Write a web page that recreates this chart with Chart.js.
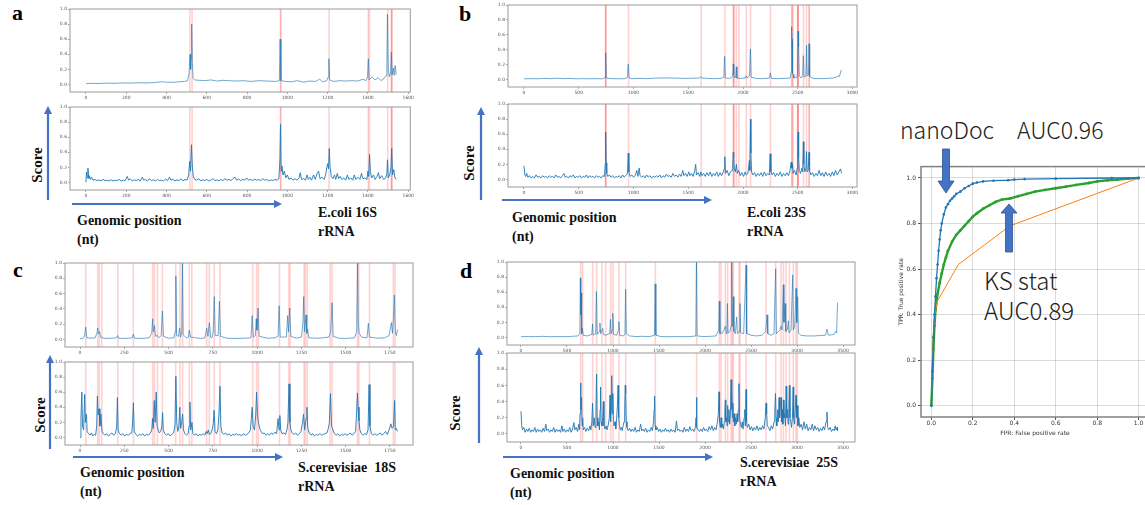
<!DOCTYPE html>
<html><head><meta charset="utf-8">
<script src="https://cdn.jsdelivr.net/npm/chart.js@4.4.1/dist/chart.umd.min.js"></script>
<style>
html,body{margin:0;padding:0;width:1145px;height:505px;overflow:hidden;background:#fff;}
#wrap{position:relative;width:1145px;height:505px;overflow:hidden;}
canvas{position:absolute;}
.t{position:absolute;font-family:'Liberation Serif','Times New Roman',serif;font-weight:bold;color:#111;white-space:pre;font-size:14px;line-height:18.5px;}
.rot{position:absolute;font-family:'Liberation Serif',serif;font-weight:bold;color:#111;font-size:15px;line-height:15px;transform:translate(-50%,-50%) rotate(-90deg);white-space:nowrap;}
.let{position:absolute;font-family:'Liberation Serif',serif;font-weight:bold;color:#000;font-size:22px;line-height:22px;transform:translate(-50%,-50%);}
.big{position:absolute;font-family:'Noto Sans CJK JP','Noto Sans',sans-serif;font-weight:300;color:#222;font-size:23px;line-height:23px;white-space:pre;}
svg{position:absolute;left:0;top:0;}
</style></head><body><div id="wrap">
<div class="let" style="left:17.5px;top:13px">a</div>
<div class="let" style="left:465px;top:14px">b</div>
<div class="let" style="left:18px;top:269.5px">c</div>
<div class="let" style="left:466px;top:271px">d</div>
<div class="rot" style="left:37px;top:165px">Score</div>
<div class="rot" style="left:469px;top:163px">Score</div>
<div class="rot" style="left:40px;top:415px">Score</div>
<div class="rot" style="left:455px;top:413px">Score</div>
<div class="t" style="left:77px;top:212px">Genomic position
(nt)</div>
<div class="t" style="left:318px;top:204px">E.coli 16S
rRNA</div>
<div class="t" style="left:512px;top:209px">Genomic position
(nt)</div>
<div class="t" style="left:747px;top:204px">E.coli 23S
rRNA</div>
<div class="t" style="left:80px;top:464px">Genomic position
(nt)</div>
<div class="t" style="left:298px;top:459px">S.cerevisiae  18S
rRNA</div>
<div class="t" style="left:510px;top:465px">Genomic position
(nt)</div>
<div class="t" style="left:740px;top:454px">S.cerevisiae  25S
rRNA</div>
<div class="big" style="left:900px;top:117.5px">nanoDoc　AUC0.96</div>
<div class="big" style="left:984px;top:267.5px;font-size:24px;line-height:24px">KS stat</div>
<div class="big" style="left:984px;top:297.5px;font-size:24px;line-height:24px">AUC0.89</div>
</div>
<script>
// ---------- data ----------
const scoreTicks = [0, 0.2, 0.4, 0.6, 0.8, 1.0];
const ecoli16sTicks = [0, 200, 400, 600, 800, 1000, 1200, 1400, 1600];
const ecoli23sTicks = [0, 500, 1000, 1500, 2000, 2500, 3000];
const yeast18sTicks = [0, 250, 500, 750, 1000, 1250, 1500, 1750];
const yeast25sTicks = [0, 500, 1000, 1500, 2000, 2500, 3000, 3500];
const rocTicks = [0, 0.2, 0.4, 0.6, 0.8, 1.0];

const ecoli16sSites = [516, 527, 966, 967, 1207, 1402, 1407, 1498, 1516, 1518, 1519];
const ecoli23sSites = [745, 746, 747, 955, 1618, 1835, 1911, 1915, 1917, 1939, 1962, 2030, 2069, 2251, 2445, 2449, 2457, 2498, 2501, 2503, 2504, 2552, 2580, 2604, 2605];
const yeast18sSites = [32, 100, 109, 123, 213, 301, 410, 420, 437, 465, 540, 564, 579, 617, 631, 715, 730, 758, 790, 975, 997, 1007, 1126, 1178, 1186, 1265, 1272, 1283, 1412, 1423, 1566, 1574, 1634, 1769, 1779];
const yeast25sSites = [649, 670, 779, 822, 880, 920, 975, 1000, 1065, 1138, 1460, 1909, 2156, 2174, 2221, 2246, 2283, 2297, 2308, 2370, 2380, 2446, 2663, 2768, 2826, 2852, 2880, 2917, 2960, 2989, 3003];

const ecoli16sTop = [[0,0.01],[30,0.015],[60,0.012],[100,0.018],[140,0.015],[180,0.02],[220,0.018],[260,0.022],[300,0.02],[340,0.025],[380,0.035],[400,0.03],[430,0.028],[460,0.035],[490,0.04],[505,0.05],[512,0.15],[517,0.4],[520,0.2],[522,0.35],[525,0.8],[528,0.3],[532,0.08],[540,0.06],[560,0.055],[590,0.05],[620,0.06],[650,0.045],[680,0.055],[710,0.05],[740,0.045],[780,0.05],[820,0.04],[860,0.05],[900,0.045],[940,0.04],[960,0.05],[964,0.6],[968,0.05],[990,0.04],[1020,0.035],[1050,0.05],[1080,0.03],[1110,0.045],[1140,0.04],[1160,0.07],[1175,0.035],[1195,0.05],[1203,0.1],[1206,0.34],[1210,0.06],[1230,0.04],[1260,0.05],[1290,0.045],[1320,0.05],[1350,0.045],[1375,0.07],[1390,0.05],[1398,0.1],[1402,0.34],[1406,0.06],[1420,0.1],[1435,0.06],[1450,0.09],[1465,0.05],[1480,0.08],[1490,0.12],[1494,0.3],[1497,0.93],[1501,0.2],[1506,0.1],[1512,0.15],[1516,0.43],[1520,0.13],[1526,0.22],[1530,0.12],[1535,0.25],[1540,0.13]];

const ecoli16sBottom = [[0,0],[3,0.14],[6,0.06],[10,0.19],[14,0.05],[18,0.09],[22,0.04],[28,0.07],[35,0.03],[45,0.04],[55,0.025],[65,0.035],[75,0.02],[85,0.04],[95,0.025],[105,0.03],[115,0.02],[125,0.035],[135,0.02],[145,0.03],[155,0.025],[165,0.04],[175,0.02],[185,0.03],[195,0.025],[205,0.08],[212,0.03],[220,0.05],[230,0.02],[240,0.035],[250,0.025],[260,0.04],[270,0.02],[280,0.07],[287,0.03],[295,0.04],[305,0.02],[315,0.05],[325,0.025],[335,0.035],[345,0.02],[355,0.04],[365,0.025],[375,0.03],[385,0.02],[395,0.045],[405,0.025],[415,0.07],[422,0.03],[432,0.04],[442,0.02],[452,0.035],[462,0.025],[472,0.05],[482,0.02],[492,0.04],[502,0.03],[510,0.1],[515,0.28],[519,0.15],[524,0.5],[528,0.22],[533,0.08],[540,0.04],[550,0.03],[560,0.05],[570,0.02],[580,0.035],[590,0.025],[600,0.04],[610,0.02],[620,0.03],[630,0.05],[640,0.025],[650,0.035],[660,0.02],[670,0.04],[680,0.025],[690,0.05],[700,0.03],[710,0.04],[720,0.025],[730,0.05],[740,0.07],[748,0.03],[758,0.045],[768,0.025],[778,0.04],[788,0.03],[798,0.06],[808,0.03],[818,0.04],[828,0.025],[838,0.045],[848,0.03],[858,0.04],[868,0.025],[878,0.05],[888,0.03],[898,0.04],[908,0.02],[918,0.035],[928,0.025],[938,0.04],[948,0.03],[958,0.05],[963,0.3],[966,0.77],[969,0.15],[973,0.22],[978,0.1],[985,0.15],[992,0.06],[1000,0.1],[1008,0.04],[1018,0.06],[1028,0.03],[1038,0.05],[1048,0.03],[1058,0.06],[1064,0.13],[1070,0.04],[1080,0.05],[1090,0.03],[1098,0.1],[1104,0.04],[1112,0.07],[1120,0.03],[1130,0.1],[1138,0.04],[1148,0.12],[1155,0.15],[1162,0.05],[1172,0.07],[1182,0.04],[1190,0.1],[1196,0.2],[1200,0.25],[1204,0.18],[1208,0.45],[1212,0.2],[1218,0.08],[1226,0.05],[1234,0.1],[1240,0.04],[1248,0.12],[1254,0.05],[1262,0.08],[1270,0.04],[1280,0.06],[1290,0.03],[1298,0.1],[1305,0.04],[1315,0.06],[1325,0.03],[1332,0.1],[1340,0.04],[1350,0.07],[1360,0.04],[1368,0.12],[1375,0.05],[1385,0.06],[1395,0.04],[1400,0.15],[1404,0.08],[1408,0.37],[1412,0.15],[1418,0.06],[1428,0.1],[1435,0.04],[1445,0.08],[1452,0.13],[1458,0.05],[1468,0.09],[1478,0.04],[1488,0.06],[1494,0.12],[1497,0.3],[1501,0.06],[1508,0.1],[1514,0.2],[1518,0.45],[1522,0.1],[1528,0.17],[1534,0.06],[1540,0.04]];

const ecoli23sTop = [[0,0.01],[60,0.012],[120,0.01],[180,0.015],[240,0.012],[300,0.018],[360,0.012],[420,0.015],[480,0.01],[540,0.012],[600,0.01],[660,0.012],[720,0.01],[740,0.03],[746,0.36],[752,0.02],[800,0.012],[860,0.01],[920,0.012],[945,0.03],[952,0.21],[960,0.02],[1000,0.012],[1060,0.015],[1120,0.012],[1180,0.018],[1240,0.02],[1300,0.022],[1360,0.02],[1420,0.018],[1480,0.015],[1540,0.018],[1600,0.02],[1615,0.04],[1625,0.02],[1680,0.015],[1740,0.012],[1800,0.015],[1825,0.03],[1832,0.31],[1840,0.02],[1880,0.015],[1905,0.04],[1911,0.21],[1916,0.07],[1925,0.02],[1934,0.05],[1939,0.17],[1945,0.02],[1980,0.015],[2020,0.02],[2030,0.05],[2038,0.02],[2060,0.05],[2068,0.41],[2075,0.03],[2120,0.015],[2180,0.012],[2240,0.02],[2250,0.09],[2258,0.015],[2320,0.012],[2380,0.015],[2430,0.02],[2440,0.1],[2444,0.71],[2448,0.54],[2452,0.08],[2458,0.07],[2465,0.02],[2490,0.03],[2498,0.08],[2503,0.65],[2508,0.44],[2514,0.05],[2530,0.02],[2545,0.05],[2551,0.32],[2558,0.03],[2575,0.05],[2580,0.46],[2586,0.05],[2598,0.06],[2603,0.48],[2609,0.04],[2640,0.015],[2700,0.012],[2760,0.015],[2820,0.02],[2850,0.03],[2870,0.05],[2880,0.04],[2892,0.1],[2900,0.13]];

const ecoli23sBottom = [[0,0.18],[8,0.06],[15,0.04],[25,0.08],[35,0.03],[50,0.05],[65,0.02],[80,0.04],[95,0.02],[110,0.06],[125,0.03],[140,0.04],[155,0.02],[170,0.05],[185,0.03],[200,0.04],[215,0.02],[230,0.05],[245,0.03],[260,0.04],[275,0.02],[290,0.06],[305,0.03],[320,0.04],[335,0.02],[350,0.05],[365,0.08],[375,0.03],[390,0.04],[405,0.02],[420,0.05],[435,0.03],[450,0.06],[465,0.02],[480,0.04],[495,0.03],[510,0.05],[525,0.02],[540,0.04],[555,0.03],[570,0.06],[585,0.02],[600,0.05],[615,0.03],[630,0.04],[645,0.02],[660,0.05],[675,0.03],[690,0.04],[705,0.02],[720,0.05],[735,0.04],[742,0.2],[746,0.63],[750,0.22],[756,0.08],[765,0.04],[780,0.06],[795,0.03],[810,0.05],[825,0.02],[840,0.04],[855,0.03],[870,0.05],[885,0.02],[900,0.06],[915,0.03],[930,0.05],[945,0.08],[952,0.35],[958,0.1],[968,0.04],[985,0.06],[1000,0.03],[1015,0.05],[1030,0.12],[1040,0.04],[1052,0.15],[1060,0.05],[1075,0.03],[1090,0.05],[1105,0.02],[1120,0.06],[1135,0.03],[1150,0.05],[1165,0.02],[1180,0.04],[1195,0.03],[1210,0.05],[1225,0.03],[1240,0.06],[1255,0.02],[1270,0.05],[1285,0.03],[1300,0.07],[1315,0.04],[1330,0.05],[1345,0.03],[1360,0.08],[1375,0.04],[1390,0.06],[1405,0.03],[1420,0.07],[1435,0.04],[1450,0.12],[1460,0.05],[1475,0.08],[1490,0.04],[1505,0.1],[1515,0.05],[1530,0.08],[1545,0.04],[1560,0.12],[1568,0.2],[1575,0.06],[1590,0.09],[1605,0.04],[1615,0.1],[1625,0.05],[1640,0.08],[1655,0.04],[1670,0.09],[1685,0.05],[1700,0.1],[1715,0.04],[1730,0.08],[1745,0.05],[1760,0.1],[1775,0.04],[1790,0.09],[1805,0.05],[1820,0.1],[1828,0.14],[1834,0.3],[1840,0.08],[1855,0.12],[1870,0.05],[1885,0.1],[1900,0.12],[1906,0.2],[1911,0.36],[1915,0.3],[1920,0.15],[1930,0.1],[1940,0.2],[1948,0.08],[1960,0.12],[1975,0.05],[1990,0.09],[2005,0.04],[2020,0.1],[2030,0.06],[2045,0.08],[2058,0.25],[2062,0.12],[2068,0.8],[2072,0.35],[2078,0.1],[2090,0.06],[2105,0.09],[2120,0.04],[2135,0.08],[2150,0.05],[2165,0.09],[2180,0.04],[2195,0.1],[2210,0.05],[2225,0.08],[2240,0.06],[2248,0.34],[2255,0.1],[2265,0.06],[2280,0.09],[2295,0.04],[2310,0.08],[2325,0.05],[2340,0.1],[2355,0.04],[2370,0.08],[2385,0.05],[2400,0.09],[2415,0.05],[2430,0.12],[2440,0.23],[2446,0.15],[2452,0.2],[2458,0.08],[2470,0.12],[2485,0.06],[2495,0.15],[2500,0.45],[2504,0.63],[2508,0.3],[2514,0.12],[2525,0.08],[2538,0.15],[2545,0.1],[2551,0.5],[2556,0.2],[2565,0.1],[2575,0.15],[2580,0.37],[2585,0.1],[2595,0.12],[2603,0.36],[2608,0.12],[2620,0.06],[2635,0.09],[2650,0.04],[2665,0.08],[2680,0.05],[2695,0.12],[2710,0.05],[2725,0.09],[2740,0.04],[2755,0.1],[2770,0.05],[2785,0.08],[2800,0.04],[2815,0.1],[2830,0.05],[2845,0.12],[2860,0.06],[2875,0.1],[2890,0.14],[2900,0.08]];

const yeast18sTop = [[0,0.01],[15,0.01],[25,0.04],[32,0.16],[38,0.02],[60,0.015],[85,0.02],[95,0.08],[100,0.15],[105,0.07],[110,0.1],[116,0.03],[140,0.012],[180,0.015],[205,0.02],[212,0.05],[218,0.015],[260,0.012],[295,0.02],[301,0.07],[307,0.015],[350,0.012],[390,0.02],[405,0.08],[410,0.27],[414,0.1],[420,0.18],[426,0.04],[437,0.05],[445,0.02],[458,0.05],[465,0.37],[471,0.04],[500,0.015],[530,0.02],[537,0.1],[541,0.83],[545,0.05],[556,0.04],[562,0.15],[568,0.03],[574,0.1],[578,1.0],[582,0.06],[600,0.02],[612,0.03],[617,0.12],[624,0.03],[680,0.012],[705,0.02],[715,0.15],[722,0.04],[730,0.22],[737,0.03],[745,0.02],[752,0.1],[758,0.56],[763,0.05],[780,0.05],[787,0.5],[793,0.04],[830,0.015],[880,0.012],[930,0.015],[965,0.02],[972,0.31],[978,0.03],[990,0.05],[995,0.27],[999,0.12],[1005,0.41],[1011,0.04],[1060,0.015],[1100,0.02],[1118,0.04],[1124,0.44],[1130,0.03],[1165,0.03],[1172,0.31],[1177,0.1],[1184,0.41],[1190,0.04],[1220,0.015],[1250,0.03],[1258,0.2],[1263,0.56],[1268,0.1],[1276,0.32],[1280,0.08],[1285,0.13],[1292,0.02],[1350,0.015],[1405,0.03],[1415,0.1],[1423,0.48],[1429,0.04],[1460,0.015],[1500,0.012],[1550,0.02],[1562,0.1],[1567,1.0],[1571,0.2],[1576,0.08],[1590,0.03],[1620,0.02],[1628,0.21],[1634,0.03],[1680,0.015],[1720,0.02],[1745,0.05],[1758,0.22],[1764,0.08],[1770,0.3],[1775,0.58],[1780,0.1],[1786,0.05],[1792,0.13]];

const yeast18sBottom = [[0,0],[5,0.25],[10,0.6],[14,0.15],[20,0.1],[26,0.57],[30,0.2],[36,0.31],[40,0.08],[48,0.05],[56,0.03],[64,0.06],[72,0.02],[80,0.04],[88,0.03],[94,0.15],[98,0.55],[102,0.3],[107,0.38],[112,0.15],[118,0.31],[124,0.08],[132,0.05],[140,0.03],[150,0.05],[160,0.02],[170,0.04],[180,0.06],[190,0.03],[200,0.05],[207,0.15],[211,0.53],[215,0.1],[222,0.05],[232,0.03],[242,0.05],[252,0.02],[262,0.04],[272,0.03],[282,0.05],[292,0.06],[297,0.2],[301,0.46],[306,0.08],[315,0.04],[325,0.02],[335,0.04],[345,0.03],[355,0.05],[365,0.02],[375,0.04],[385,0.03],[395,0.05],[405,0.1],[409,0.25],[413,0.12],[419,0.49],[424,0.2],[430,0.6],[435,0.15],[441,0.1],[448,0.06],[455,0.08],[462,0.15],[466,0.33],[470,0.1],[478,0.05],[488,0.03],[498,0.05],[508,0.02],[518,0.04],[528,0.06],[536,0.15],[541,0.81],[546,0.2],[552,0.08],[558,0.15],[563,0.4],[568,0.12],[574,0.2],[579,0.31],[584,0.1],[592,0.05],[600,0.03],[610,0.05],[616,0.15],[620,0.47],[625,0.1],[632,0.2],[637,0.05],[645,0.03],[655,0.05],[665,0.02],[675,0.04],[685,0.03],[695,0.05],[705,0.03],[712,0.08],[718,0.05],[724,0.1],[730,0.04],[738,0.05],[746,0.1],[752,0.18],[757,0.36],[762,0.08],[770,0.05],[778,0.1],[784,0.3],[790,0.68],[795,0.15],[802,0.06],[812,0.04],[822,0.06],[832,0.03],[842,0.05],[852,0.02],[862,0.04],[872,0.03],[882,0.05],[892,0.03],[902,0.04],[912,0.02],[922,0.05],[932,0.03],[942,0.04],[952,0.06],[962,0.1],[967,0.25],[972,0.4],[977,0.15],[985,0.1],[992,0.3],[997,0.6],[1002,0.3],[1007,0.2],[1014,0.12],[1022,0.08],[1030,0.05],[1040,0.06],[1050,0.03],[1060,0.05],[1070,0.03],[1080,0.06],[1090,0.04],[1100,0.07],[1110,0.05],[1118,0.25],[1124,0.1],[1128,0.29],[1133,0.1],[1140,0.05],[1150,0.06],[1160,0.04],[1168,0.1],[1174,0.2],[1180,0.71],[1185,0.2],[1190,0.1],[1198,0.06],[1208,0.04],[1218,0.06],[1228,0.03],[1238,0.05],[1248,0.08],[1256,0.2],[1262,0.31],[1268,0.1],[1276,0.25],[1281,0.4],[1286,0.12],[1294,0.06],[1304,0.03],[1314,0.05],[1324,0.02],[1334,0.04],[1344,0.03],[1354,0.05],[1364,0.03],[1374,0.04],[1384,0.05],[1394,0.06],[1402,0.12],[1408,0.2],[1414,0.58],[1420,0.15],[1428,0.1],[1436,0.05],[1446,0.03],[1456,0.05],[1466,0.02],[1476,0.04],[1486,0.03],[1496,0.05],[1506,0.03],[1516,0.04],[1526,0.06],[1536,0.03],[1546,0.05],[1556,0.08],[1562,0.35],[1566,0.59],[1570,0.4],[1575,0.22],[1580,0.1],[1588,0.05],[1598,0.03],[1608,0.05],[1618,0.04],[1626,0.1],[1632,0.7],[1637,0.15],[1645,0.05],[1655,0.03],[1665,0.05],[1675,0.03],[1685,0.04],[1695,0.06],[1705,0.03],[1715,0.05],[1725,0.08],[1735,0.04],[1745,0.1],[1755,0.18],[1762,0.12],[1770,0.15],[1776,0.49],[1780,0.1],[1786,0.12],[1792,0.08]];

const yeast25sTop = [[0,0.01],[80,0.012],[160,0.01],[240,0.015],[320,0.01],[400,0.012],[480,0.01],[560,0.015],[620,0.02],[640,0.05],[645,0.79],[650,0.3],[655,0.59],[660,0.05],[668,0.12],[675,0.03],[720,0.02],[770,0.04],[778,0.18],[785,0.03],[812,0.05],[820,0.61],[828,0.04],[850,0.08],[858,0.19],[866,0.05],[880,0.1],[888,0.12],[895,0.04],[920,0.03],[965,0.05],[972,0.24],[980,0.05],[992,0.1],[998,0.32],[1005,0.04],[1040,0.03],[1058,0.1],[1064,0.21],[1072,0.03],[1110,0.02],[1130,0.04],[1137,0.64],[1145,0.05],[1180,0.02],[1250,0.012],[1320,0.015],[1400,0.012],[1450,0.03],[1458,0.71],[1466,0.03],[1520,0.012],[1600,0.01],[1680,0.012],[1760,0.01],[1840,0.012],[1900,0.02],[1907,1.0],[1914,0.02],[1980,0.012],[2060,0.015],[2120,0.02],[2148,0.1],[2155,0.48],[2162,0.05],[2190,0.06],[2205,0.1],[2221,0.15],[2230,0.05],[2238,0.1],[2243,0.45],[2250,0.06],[2270,0.08],[2283,0.15],[2290,1.0],[2296,0.15],[2302,0.3],[2308,0.54],[2314,0.08],[2330,0.05],[2344,0.27],[2352,0.05],[2370,0.08],[2380,0.45],[2388,0.06],[2420,0.05],[2446,0.96],[2453,0.05],[2500,0.03],[2560,0.02],[2620,0.03],[2660,0.08],[2674,0.3],[2682,0.05],[2720,0.03],[2750,0.05],[2768,0.91],[2776,0.05],[2800,0.08],[2815,0.1],[2826,0.15],[2838,0.1],[2851,0.7],[2858,0.2],[2870,0.45],[2878,0.08],[2895,0.1],[2906,0.22],[2914,0.06],[2935,0.1],[2953,0.83],[2960,0.1],[2975,0.15],[2989,0.65],[2997,0.2],[3007,0.54],[3015,0.06],[3040,0.03],[3100,0.02],[3180,0.02],[3250,0.025],[3310,0.03],[3325,0.11],[3340,0.03],[3400,0.04],[3420,0.08],[3430,0.06],[3440,0.46]];

const yeast25sBottom = [[0,0.28],[8,0.1],[16,0.05],[30,0.08],[45,0.02],[60,0.06],[75,0.03],[90,0.07],[105,0.02],[120,0.05],[135,0.03],[150,0.08],[165,0.02],[180,0.06],[195,0.03],[210,0.05],[225,0.02],[240,0.07],[255,0.03],[270,0.12],[280,0.04],[295,0.06],[310,0.02],[325,0.05],[340,0.03],[355,0.08],[370,0.02],[385,0.06],[400,0.03],[415,0.05],[430,0.02],[445,0.1],[455,0.03],[470,0.06],[485,0.02],[500,0.05],[515,0.03],[530,0.08],[545,0.02],[560,0.06],[575,0.14],[585,0.05],[600,0.08],[615,0.03],[628,0.12],[636,0.05],[642,0.25],[647,0.63],[652,0.3],[658,0.45],[664,0.1],[670,0.2],[676,0.05],[690,0.08],[705,0.03],[720,0.07],[735,0.04],[750,0.1],[760,0.05],[770,0.15],[778,0.38],[785,0.1],[795,0.2],[805,0.08],[815,0.3],[822,0.74],[828,0.2],[836,0.1],[845,0.15],[852,0.05],[860,0.3],[865,0.58],[870,0.15],[880,0.1],[888,0.2],[895,0.4],[902,0.1],[912,0.06],[925,0.1],[935,0.05],[950,0.12],[960,0.2],[968,0.48],[974,0.15],[980,0.3],[986,0.72],[992,0.25],[998,0.5],[1004,0.2],[1012,0.1],[1022,0.15],[1030,0.06],[1040,0.2],[1048,0.35],[1055,0.6],[1062,0.2],[1070,0.1],[1080,0.05],[1090,0.08],[1100,0.04],[1110,0.1],[1120,0.15],[1127,0.3],[1133,0.6],[1138,0.5],[1144,0.15],[1152,0.08],[1165,0.04],[1180,0.07],[1195,0.03],[1210,0.06],[1225,0.03],[1240,0.08],[1255,0.02],[1270,0.05],[1285,0.03],[1300,0.12],[1312,0.04],[1325,0.06],[1340,0.03],[1355,0.07],[1370,0.02],[1385,0.05],[1400,0.03],[1415,0.08],[1428,0.04],[1440,0.15],[1447,0.3],[1452,0.47],[1458,0.1],[1466,0.05],[1480,0.08],[1495,0.03],[1510,0.06],[1525,0.02],[1540,0.05],[1555,0.03],[1570,0.07],[1585,0.03],[1600,0.05],[1615,0.02],[1630,0.06],[1645,0.03],[1660,0.05],[1675,0.02],[1690,0.16],[1700,0.04],[1715,0.06],[1730,0.03],[1745,0.05],[1760,0.02],[1775,0.08],[1790,0.03],[1805,0.06],[1820,0.03],[1835,0.09],[1850,0.04],[1865,0.06],[1880,0.03],[1895,0.08],[1903,0.2],[1907,0.45],[1912,0.08],[1925,0.05],[1940,0.03],[1955,0.06],[1970,0.03],[1985,0.08],[2000,0.04],[2015,0.06],[2030,0.03],[2045,0.09],[2060,0.05],[2075,0.1],[2090,0.04],[2105,0.08],[2120,0.05],[2135,0.15],[2145,0.25],[2152,0.52],[2158,0.15],[2166,0.08],[2175,0.2],[2182,0.08],[2192,0.12],[2200,0.06],[2210,0.15],[2216,0.28],[2221,0.42],[2226,0.15],[2234,0.2],[2240,0.1],[2246,0.35],[2252,0.15],[2260,0.3],[2268,0.12],[2276,0.25],[2283,0.67],[2288,0.3],[2293,0.55],[2298,0.2],[2303,0.38],[2308,0.15],[2316,0.25],[2324,0.1],[2332,0.2],[2340,0.12],[2348,0.25],[2355,0.15],[2362,0.3],[2369,0.62],[2375,0.2],[2385,0.12],[2395,0.08],[2405,0.15],[2413,0.06],[2425,0.2],[2432,0.3],[2438,0.1],[2446,0.55],[2452,0.15],[2460,0.08],[2475,0.12],[2490,0.05],[2505,0.09],[2520,0.04],[2535,0.08],[2550,0.05],[2565,0.1],[2580,0.04],[2595,0.08],[2610,0.05],[2625,0.1],[2640,0.06],[2655,0.2],[2663,0.38],[2670,0.25],[2677,0.1],[2690,0.08],[2705,0.04],[2720,0.1],[2735,0.06],[2750,0.15],[2758,0.25],[2766,0.5],[2772,0.2],[2780,0.1],[2790,0.3],[2797,0.15],[2805,0.45],[2811,0.2],[2818,0.35],[2826,0.45],[2832,0.15],[2840,0.3],[2846,0.12],[2852,0.42],[2858,0.2],[2866,0.25],[2874,0.1],[2882,0.59],[2888,0.2],[2896,0.3],[2903,0.12],[2910,0.25],[2917,0.6],[2923,0.2],[2932,0.15],[2940,0.08],[2950,0.2],[2958,0.58],[2964,0.2],[2972,0.12],[2980,0.3],[2989,0.48],[2995,0.2],[3003,0.35],[3010,0.1],[3020,0.2],[3030,0.08],[3045,0.12],[3060,0.05],[3075,0.15],[3090,0.06],[3105,0.12],[3120,0.04],[3135,0.08],[3150,0.05],[3165,0.12],[3180,0.04],[3195,0.1],[3210,0.05],[3225,0.08],[3240,0.03],[3255,0.07],[3270,0.04],[3285,0.09],[3300,0.05],[3315,0.15],[3325,0.27],[3333,0.08],[3345,0.05],[3360,0.08],[3375,0.03],[3390,0.06],[3405,0.04],[3415,0.1],[3425,0.05],[3435,0.08],[3440,0.04]];

const nanodocRoc = [[0,0],[0.005,0.15],[0.01,0.3],[0.015,0.4],[0.02,0.48],[0.025,0.56],[0.03,0.62],[0.035,0.68],[0.04,0.73],[0.045,0.77],[0.05,0.8],[0.06,0.84],[0.07,0.87],[0.08,0.885],[0.09,0.9],[0.1,0.91],[0.11,0.92],[0.12,0.93],[0.14,0.94],[0.16,0.955],[0.18,0.965],[0.2,0.975],[0.22,0.98],[0.25,0.985],[0.3,0.988],[0.37,0.99],[0.4,0.993],[0.45,0.995],[0.6,0.997],[0.87,1.0],[1,1]];
const baselineRoc = [[0,0],[0.005,0.2],[0.01,0.32],[0.02,0.42],[0.03,0.46],[0.13,0.62],[0.38,0.79],[1,1]];
const ksRoc = [[0,0],[0.005,0.12],[0.01,0.25],[0.015,0.35],[0.02,0.42],[0.03,0.49],[0.04,0.54],[0.05,0.58],[0.06,0.62],[0.07,0.65],[0.08,0.68],[0.1,0.72],[0.12,0.75],[0.14,0.77],[0.16,0.79],[0.18,0.81],[0.2,0.83],[0.22,0.845],[0.25,0.865],[0.28,0.88],[0.31,0.895],[0.34,0.905],[0.38,0.91],[0.42,0.92],[0.46,0.93],[0.5,0.94],[0.55,0.948],[0.6,0.955],[0.65,0.962],[0.7,0.97],[0.76,0.978],[0.8,0.985],[0.85,0.99],[0.9,0.993],[0.95,0.997],[1,1]];

// ---------- drawing ----------
const wrap = document.getElementById('wrap');
const YW = 20, XH = 12, PT = 4, PR = 4;
const tickFont = {family: "'DejaVu Sans', sans-serif", size: 4.5};

const framePlugin = (color, width) => ({
  id: 'frame',
  afterDraw(c) {
    const {left, top, right, bottom} = c.chartArea;
    const ctx = c.ctx; ctx.save();
    ctx.strokeStyle = color; ctx.lineWidth = width;
    ctx.strokeRect(left, top, right - left, bottom - top);
    ctx.restore();
  }
});
const sitesPlugin = (positions) => ({
  id: 'sites',
  beforeDatasetsDraw(c) {
    const x = c.scales.x; const {top, bottom} = c.chartArea;
    const ctx = c.ctx; ctx.save();
    ctx.strokeStyle = 'rgba(255,50,50,0.22)'; ctx.lineWidth = 1.6;
    positions.forEach(p => {
      const px = x.getPixelForValue(p);
      ctx.beginPath(); ctx.moveTo(px, top); ctx.lineTo(px, bottom); ctx.stroke();
    });
    ctx.restore();
  }
});

function makeCanvas(left, top, w, h) {
  const cv = document.createElement('canvas');
  cv.width = w; cv.height = h;
  cv.style.left = left + 'px'; cv.style.top = top + 'px';
  cv.style.width = w + 'px'; cv.style.height = h + 'px';
  wrap.appendChild(cv);
  return cv;
}

function trace(f, points, sites, xmin, xmax, xticks, lw, col) {
  const W = f.r - f.l + YW + PR, H = f.b - f.t + PT + XH;
  const cv = makeCanvas(f.l - YW, f.t - PT, W, H);
  new Chart(cv, {
    type: 'line',
    data: {datasets: [{data: points.map(p => ({x: p[0], y: p[1]})), borderColor: col, borderWidth: lw, pointRadius: 0, tension: 0}]},
    options: {
      responsive: false, animation: false, events: [],
      layout: {autoPadding: false, padding: {left: 0, top: PT, right: PR, bottom: 0}},
      plugins: {legend: {display: false}, tooltip: {enabled: false}},
      scales: {
        x: {type: 'linear', min: xmin, max: xmax,
          afterBuildTicks: s => { s.ticks = xticks.map(v => ({value: v})); },
          afterFit: s => { s.height = XH; },
          ticks: {font: tickFont, color: '#555', padding: 1, maxRotation: 0, autoSkip: false, callback: v => String(v)},
          grid: {drawOnChartArea: false, tickLength: 2, color: '#777', lineWidth: 0.6},
          border: {display: false}},
        y: {type: 'linear', min: -0.1, max: 1.0,
          afterBuildTicks: s => { s.ticks = scoreTicks.map(v => ({value: v})); },
          afterFit: s => { s.width = YW; },
          ticks: {font: tickFont, color: '#555', padding: 1, autoSkip: false, callback: v => Number(v).toFixed(1)},
          grid: {drawOnChartArea: false, tickLength: 2, color: '#777', lineWidth: 0.6},
          border: {display: false}}
      }
    },
    plugins: [sitesPlugin(sites), framePlugin('#9a9a9a', 1)]
  });
}

const topCol = 'rgba(31,119,180,0.8)', botCol = '#1f77b4';
trace({l:70, r:411, t:9, b:92}, ecoli16sTop, ecoli16sSites, -79, 1610, ecoli16sTicks, 0.8, topCol);
trace({l:70, r:411, t:107, b:190}, ecoli16sBottom, ecoli16sSites, -79, 1610, ecoli16sTicks, 0.9, botCol);
trace({l:508, r:857, t:5, b:87}, ecoli23sTop, ecoli23sSites, -146, 3041, ecoli23sTicks, 0.8, topCol);
trace({l:508, r:857, t:104, b:187}, ecoli23sBottom, ecoli23sSites, -146, 3041, ecoli23sTicks, 0.9, botCol);
trace({l:65, r:413, t:263, b:347}, yeast18sTop, yeast18sSites, -85, 1880, yeast18sTicks, 0.8, topCol);
trace({l:65, r:413, t:362, b:445}, yeast18sBottom, yeast18sSites, -85, 1880, yeast18sTicks, 0.9, botCol);
trace({l:507, r:855, t:262, b:345}, yeast25sTop, yeast25sSites, -152, 3630, yeast25sTicks, 0.8, topCol);
trace({l:507, r:855, t:353, b:442}, yeast25sBottom, yeast25sSites, -152, 3630, yeast25sTicks, 0.9, botCol);

// ROC
(function () {
  const f = {l: 921, r: 1149.4, t: 166, b: 417};
  const ryw = 23, rxh = 20, rpt = 5, rpr = 4;
  const W = Math.round(f.r - f.l + ryw + rpr), H = f.b - f.t + rpt + rxh;
  const cv = makeCanvas(f.l - ryw, f.t - rpt, W, H);
  const rf = {family: "'DejaVu Sans', sans-serif", size: 6};
  const grid = {color: 'rgba(0,0,0,0.14)', lineWidth: 1, tickLength: 3, tickColor: '#555'};
  const toXY = a => a.map(p => ({x: p[0], y: p[1]}));
  new Chart(cv, {
    type: 'line',
    data: {datasets: [
      {data: toXY(nanodocRoc), borderColor: '#1f77b4', backgroundColor: '#1f77b4', borderWidth: 1.3, pointRadius: 1.3, pointBorderWidth: 0, tension: 0},
      {data: toXY(baselineRoc), borderColor: '#ff7f0e', borderWidth: 1, pointRadius: 0, tension: 0},
      {data: toXY(ksRoc), borderColor: '#2ca02c', backgroundColor: '#2ca02c', borderWidth: 2.4, pointRadius: 1.4, pointBorderWidth: 0, tension: 0}
    ]},
    options: {
      responsive: false, animation: false, events: [],
      layout: {autoPadding: false, padding: {left: 0, top: rpt, right: rpr, bottom: 0}},
      plugins: {legend: {display: false}, tooltip: {enabled: false}},
      scales: {
        x: {type: 'linear', min: -0.05, max: 1.05,
          afterBuildTicks: s => { s.ticks = rocTicks.map(v => ({value: v})); },
          afterFit: s => { s.height = rxh; },
          ticks: {font: rf, color: '#333', padding: 0, maxRotation: 0, autoSkip: false, callback: v => Number(v).toFixed(1)},
          title: {display: true, text: 'FPR: False positive rate', font: rf, color: '#333', padding: 0},
          grid: grid, border: {display: false}},
        y: {type: 'linear', min: -0.05, max: 1.05,
          afterBuildTicks: s => { s.ticks = rocTicks.map(v => ({value: v})); },
          afterFit: s => { s.width = ryw; },
          ticks: {font: rf, color: '#333', padding: 2, autoSkip: false, callback: v => Number(v).toFixed(1)},
          title: {display: true, text: 'TPR: True positive rate', font: rf, color: '#333', padding: 0},
          grid: grid, border: {display: false}}
      }
    },
    plugins: [framePlugin('#808080', 1.5)]
  });
})();

// arrows overlay
const svgNS = 'http://www.w3.org/2000/svg';
const svg = document.createElementNS(svgNS, 'svg');
svg.setAttribute('width', 1145); svg.setAttribute('height', 505);
svg.innerHTML = `
<g stroke="#4472C4" stroke-width="2.2" fill="#4472C4">
<line x1="48" y1="200" x2="48" y2="113"/><polygon stroke="none" points="44,114 52,114 48,106"/>
<line x1="72" y1="204" x2="275" y2="204"/><polygon stroke="none" points="274,200 274,208 282,204"/>
<line x1="481" y1="200" x2="481" y2="114"/><polygon stroke="none" points="477,115 485,115 481,107"/>
<line x1="502" y1="200" x2="705" y2="200"/><polygon stroke="none" points="704,196 704,204 712,200"/>
<line x1="50" y1="449" x2="50" y2="362"/><polygon stroke="none" points="46,363 54,363 50,355"/>
<line x1="73" y1="457" x2="276" y2="457"/><polygon stroke="none" points="275,453 275,461 283,457"/>
<line x1="479" y1="443" x2="479" y2="354"/><polygon stroke="none" points="475,355 483,355 479,347"/>
<line x1="503" y1="457" x2="706" y2="457"/><polygon stroke="none" points="705,453 705,461 713,457"/>
</g>
<g fill="#4472C4" stroke="#2F528F" stroke-width="0.8">
<polygon points="942.5,149 949.5,149 949.5,181 954,181 946,193 938,181 942.5,181"/>
<polygon points="1009,204 1017,213 1012.5,213 1012.5,252 1005.5,252 1005.5,213 1001,213"/>
</g>`;
wrap.appendChild(svg);
</script>
</body></html>
